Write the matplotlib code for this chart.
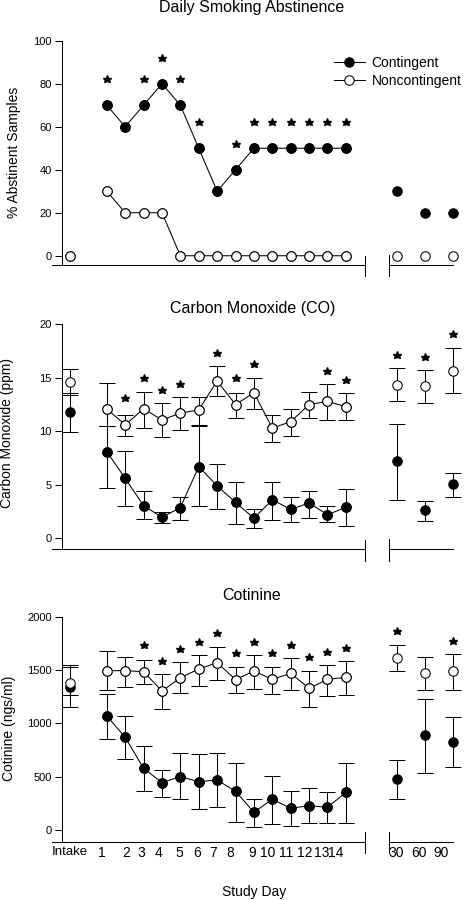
import numpy as np
import matplotlib.pyplot as plt
from matplotlib import font_manager

plt.rcParams['font.family'] = ['Liberation Sans', 'DejaVu Sans']
# the original day numbers are narrow; use the narrow face when it is installed
_names = {f.name for f in font_manager.fontManager.ttflist}
NARROW = 'Liberation Sans Narrow' if 'Liberation Sans Narrow' in _names else 'Liberation Sans'

# === x categories: intake, study days 1-14, follow-up days ===
labels = ["Intake"] + [str(d) for d in range(1, 15)] + ["30", "60", "90"]
days = list(range(1, 15))
followup = [30, 60, 90]

# === % abstinent samples ===
abst_cont = [0, 70, 60, 70, 80, 70, 50, 30, 40, 50, 50, 50, 50, 50, 50, 30, 20, 20]
abst_non = [0, 30, 20, 20, 20, 0, 0, 0, 0, 0, 0, 0, 0, 0, 0, 0, 0, 0]
abst_stars = ["1", "3", "4", "5", "6", "8", "9", "10", "11", "12", "13", "14"]

# === carbon monoxide (ppm): mean, error bar low / high ===
co_cont = [11.8, 8.1, 5.6, 3.05, 1.96, 2.87, 6.7, 4.9, 3.35, 1.87, 3.6, 2.7, 3.3, 2.2, 2.9, 7.2, 2.65, 5.05]
co_cont_lo = [9.9, 4.7, 3.0, 1.8, 1.4, 1.7, 3.0, 2.7, 1.3, 1.0, 1.7, 1.5, 1.9, 1.5, 1.15, 3.6, 1.65, 3.9]
co_cont_hi = [13.6, 10.5, 8.2, 4.4, 2.5, 3.9, 10.6, 6.9, 5.3, 2.7, 5.3, 3.9, 4.4, 3.0, 4.6, 10.7, 3.5, 6.1]
co_non = [14.6, 12.1, 10.6, 12.1, 11.06, 11.7, 12.0, 14.7, 12.5, 13.6, 10.3, 10.9, 12.5, 12.8, 12.3, 14.3, 14.2, 15.6]
co_non_lo = [13.4, 10.5, 9.6, 10.3, 9.5, 10.1, 10.5, 13.3, 11.2, 12.1, 9.0, 9.6, 11.2, 11.1, 11.1, 12.8, 12.6, 13.55]
co_non_hi = [15.8, 14.5, 11.5, 13.7, 12.6, 13.2, 13.2, 16.1, 13.6, 15.0, 11.5, 12.1, 13.7, 14.4, 13.55, 15.9, 15.7, 17.8]
co_stars = ["2", "3", "4", "5", "7", "8", "9", "13", "14", "30", "60", "90"]

# === cotinine (ngs/ml) ===
cot_cont = [1340, 1069, 869, 578, 444, 500, 453, 469, 362, 166, 288, 203, 228, 212, 353, 478, 891, 828]
cot_cont_lo = [1150, 850, 662, 369, 312, 288, 194, 219, 72, 25, 53, 41, 69, 69, 69, 291, 538, 594]
cot_cont_hi = [1525, 1272, 1069, 788, 563, 719, 712, 719, 631, 291, 506, 366, 391, 359, 631, 656, 1228, 1056]
cot_non = [1378, 1494, 1494, 1484, 1303, 1428, 1509, 1569, 1410, 1490, 1412, 1469, 1328, 1412, 1431, 1616, 1469, 1491]
cot_non_lo = [1265, 1312, 1344, 1366, 1131, 1281, 1350, 1406, 1281, 1322, 1272, 1312, 1156, 1256, 1266, 1494, 1312, 1312]
cot_non_hi = [1547, 1678, 1619, 1594, 1459, 1572, 1640, 1719, 1525, 1640, 1525, 1609, 1494, 1547, 1584, 1734, 1619, 1650]
cot_stars = ["3", "4", "5", "6", "7", "8", "9", "10", "11", "12", "13", "14", "30", "90"]

# positions on the treatment axis (intake sits two days left of day 1)
x_main = [-1] + days
# where the tick labels sit (the original labels drift left of the points)
lab_main = [-1.0, 0.71, 2.03, 2.85, 3.83, 4.97, 5.9, 6.77, 7.69, 8.89, 9.73, 10.74, 11.77, 12.68, 13.45]
lab_fu = [28.9, 53.6, 77.9]

LW = 0.75
MS = 6.8


def panel(ax, axf, cont, non, ylim, yticks, star_off, stars, lo_hi=None, show_x=False):
    cont = np.array(cont, float)
    non = np.array(non, float)
    tops = np.maximum(cont, non)
    if lo_hi is not None:
        c_lo, c_hi, n_lo, n_hi = [np.array(v, float) for v in lo_hi]
        tops = np.maximum(tops + star_off, np.maximum(c_hi, n_hi) + 0.5 * star_off)
    else:
        tops = tops + star_off

    for a, xs, sl in [(ax, x_main, slice(0, 15)), (axf, followup, slice(15, 18))]:
        if lo_hi is not None:
            a.errorbar(xs, cont[sl], yerr=[cont[sl] - c_lo[sl], c_hi[sl] - cont[sl]], fmt='none',
                       ecolor='k', elinewidth=LW, capsize=5.5, capthick=LW, zorder=1, clip_on=False)
            a.errorbar(xs, non[sl], yerr=[non[sl] - n_lo[sl], n_hi[sl] - non[sl]], fmt='none',
                       ecolor='k', elinewidth=LW, capsize=5.5, capthick=LW, zorder=1, clip_on=False)
        a.plot(xs, cont[sl], 'o', color='k', ms=MS, mec='k', mew=LW, zorder=3, clip_on=False)
        a.plot(xs, non[sl], 'o', color='k', ms=MS, mfc='white', mec='k', mew=LW, zorder=4, clip_on=False)

    # connecting lines for study days only
    h1, = ax.plot(days, cont[1:15], '-o', color='k', lw=LW, ms=MS, mec='k', mew=LW, zorder=2)
    h2, = ax.plot(days, non[1:15], '-o', color='k', lw=LW, ms=MS, mfc='white', mec='k', mew=LW, zorder=2)

    # significance stars
    xs_all = x_main + followup
    for lab in stars:
        i = labels.index(lab)
        a = ax if i < 15 else axf
        a.plot(xs_all[i], tops[i], marker='*', color='k', ms=6.2, ls='none', clip_on=False)

    for a in (ax, axf):
        a.patch.set_visible(False)
        a.set_ylim(*ylim)
        a.spines['top'].set_visible(False)
        a.spines['right'].set_visible(False)
        a.spines['bottom'].set_linewidth(LW)
        a.tick_params(axis='x', length=0, labelsize=9.5, pad=3)
    ax.set_xlim(-1.98, 15.04)
    axf.set_xlim(21.4, 90.2)
    ax.spines['left'].set_position(('axes', 0.033))
    ax.spines['left'].set_linewidth(LW)
    ax.set_yticks(yticks)
    ax.tick_params(axis='y', direction='out', length=5, width=LW, labelsize=8, pad=2.5)
    axf.spines['left'].set_visible(False)
    axf.set_yticks([])

    if show_x:
        ax.set_xticks(lab_main, labels[:15])
        axf.set_xticks(lab_fu, labels[15:])
        for t in ax.get_xticklabels()[1:] + axf.get_xticklabels():
            t.set_family(NARROW)
            t.set_fontsize(10)
    else:
        ax.set_xticks([])
        axf.set_xticks([])

    # axis break bars
    ax.plot([1, 1], [-0.05, 0.042], color='k', lw=LW, transform=ax.transAxes, clip_on=False)
    axf.plot([0, 0], [-0.05, 0.045], color='k', lw=LW, transform=axf.transAxes, clip_on=False)
    return h1, h2


fig = plt.figure(figsize=(4.66, 9.0), dpi=100)
W, H = 466.0, 900.0


def axes_pair(top_px, bot_px):
    b = 1 - bot_px / H
    h = (bot_px - top_px) / H
    ax = fig.add_axes([52 / W, b, (365 - 52) / W, h])
    axf = fig.add_axes([389 / W, b, (453 - 389) / W, h])
    return ax, axf


ax1, ax1f = axes_pair(40.7, 265)
ax2, ax2f = axes_pair(324.3, 549.3)
ax3, ax3f = axes_pair(616.7, 841.7)

h1, h2 = panel(ax1, ax1f, abst_cont, abst_non, (-4.3, 100), [0, 20, 40, 60, 80, 100], 12, abst_stars)
panel(ax2, ax2f, co_cont, co_non, (-1.03, 20), [0, 5, 10, 15, 20], 2.5, co_stars,
      lo_hi=(co_cont_lo, co_cont_hi, co_non_lo, co_non_hi))
panel(ax3, ax3f, cot_cont, cot_non, (-110, 2000), [0, 500, 1000, 1500, 2000], 250, cot_stars,
      lo_hi=(cot_cont_lo, cot_cont_hi, cot_non_lo, cot_non_hi), show_x=True)

ax1.legend([h1, h2], ['Contingent', 'Noncontingent'], loc='upper left', frameon=False,
           bbox_to_anchor=(334 / W, 1 - 56 / H), bbox_transform=fig.transFigure,
           fontsize=10, handlelength=2.2, handletextpad=0.5, labelspacing=0.3,
           borderpad=0, borderaxespad=0)

# titles and axis labels
fig.text(252 / W, 1 - 7.5 / H, 'Daily Smoking Abstinence', ha='center', va='center', fontsize=11.5)
fig.text(253 / W, 1 - 308 / H, 'Carbon Monoxide (CO)', ha='center', va='center', fontsize=11.5)
fig.text(252 / W, 1 - 596 / H, 'Cotinine', ha='center', va='center', fontsize=11.5)
fig.text(14 / W, 1 - 152 / H, '% Abstinent Samples', rotation=90, ha='center', va='center', fontsize=10)
fig.text(7.5 / W, 1 - 433 / H, 'Carbon Monoxide (ppm)', rotation=90, ha='center', va='center', fontsize=10)
fig.text(9.5 / W, 1 - 728 / H, 'Cotinine (ngs/ml)', rotation=90, ha='center', va='center', fontsize=10)
fig.text(254 / W, 1 - 892 / H, 'Study Day', ha='center', va='center', fontsize=10)

fig.savefig('out.png', dpi=100)
